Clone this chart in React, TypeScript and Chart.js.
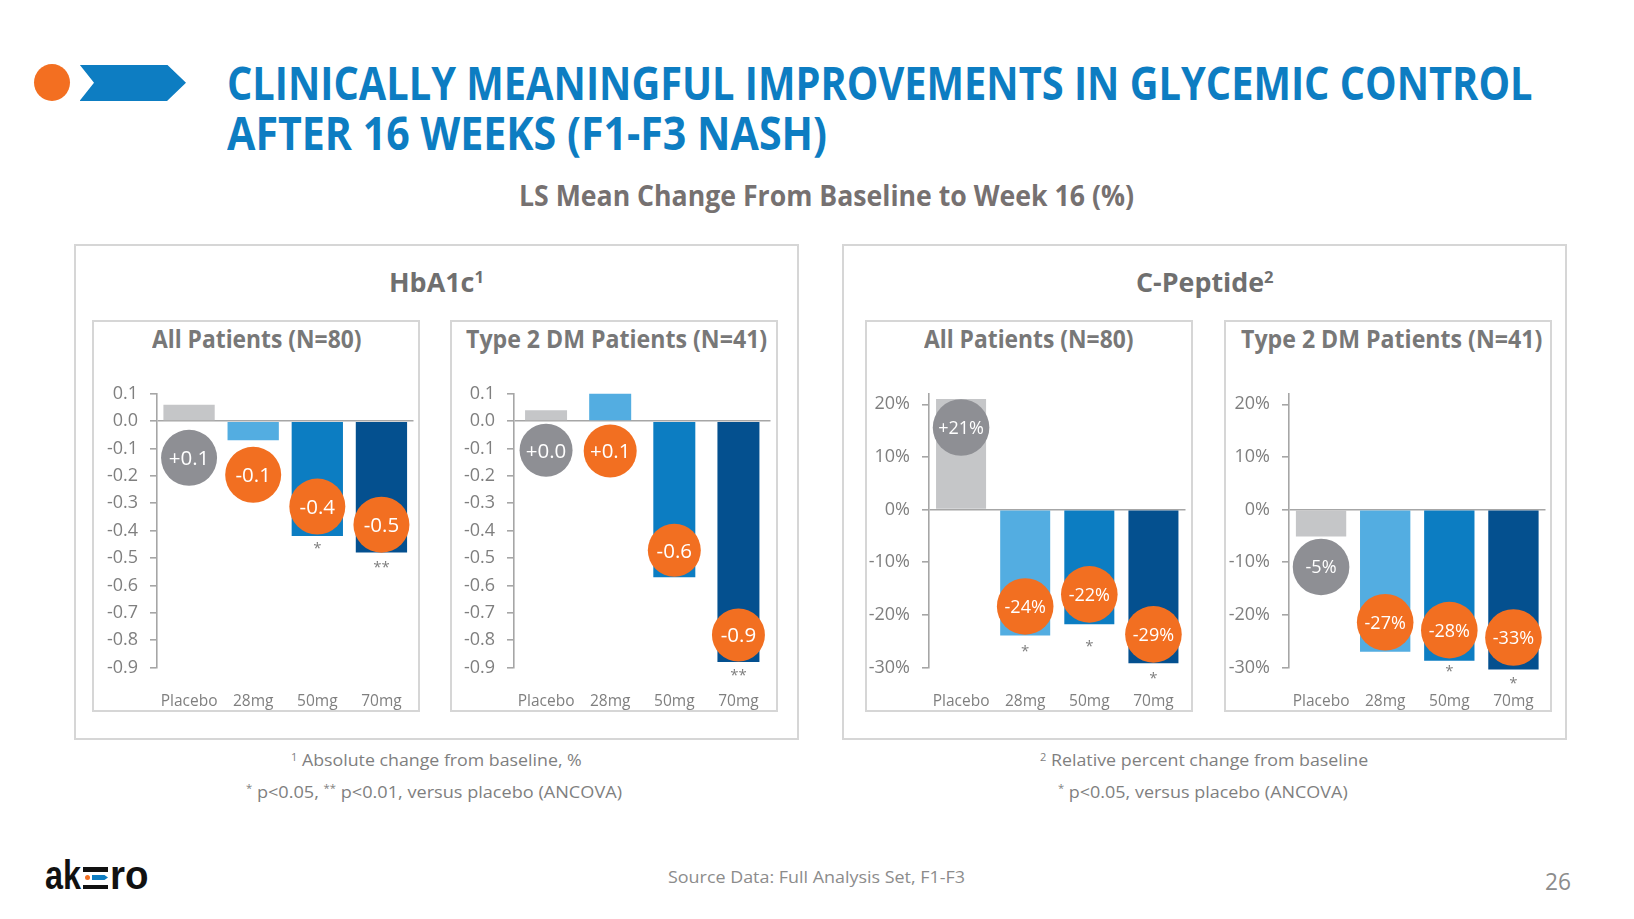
import React, { useEffect, useLayoutEffect, useRef } from "react";
import { Chart, registerables } from "chart.js";

Chart.register(...registerables);

// ---------------- DATA ----------------
const categories = ["Placebo", "28mg", "50mg", "70mg"];

const hba1cTicks = [0.1, 0, -0.1, -0.2, -0.3, -0.4, -0.5, -0.6, -0.7, -0.8, -0.9];
const cpepTicks = [0.2, 0.1, 0, -0.1, -0.2, -0.3];

const hba1cAllValues = [0.06, -0.07, -0.42, -0.48];
const hba1cAllLabels = ["+0.1", "-0.1", "-0.4", "-0.5"];
const hba1cAllSig = ["", "", "*", "**"];

const hba1cT2Values = [0.04, 0.1, -0.57, -0.88];
const hba1cT2Labels = ["+0.0", "+0.1", "-0.6", "-0.9"];
const hba1cT2Sig = ["", "", "", "**"];

const cpepAllValues = [0.21, -0.239, -0.218, -0.292];
const cpepAllLabels = ["+21%", "-24%", "-22%", "-29%"];
const cpepAllSig = ["", "*", "*", "*"];

const cpepT2Values = [-0.051, -0.27, -0.287, -0.33];
const cpepT2Labels = ["-5%", "-27%", "-28%", "-33%"];
const cpepT2Sig = ["", "", "*", "*"];

// ---------------- STYLE ----------------
const FONT = "'Open Sans', sans-serif";
const BLUE = "rgb(13,125,194)";
const ORANGE = "#f26f21";
const BUBBLE_GRAY = "#8e8f94";
const AXIS = "#a6a6a6";
const TICK_TEXT = "#7f7f7f";
const STAR = "#7f7f7f";
const BAR_COLORS = ["#c5c6c8", "#53ade1", "#0c7dc2", "#04508f"];

const Y_AXIS_W = 64;
const PLOT_W = 256.5;
const RIGHT_PAD = 24;
const CANVAS_TOP = 371;
const PAD_TOP = 20;
const PLOT_H = 276.5;
const CW = Math.ceil(Y_AXIS_W + PLOT_W + RIGHT_PAD);
const CH = 340;
const STAR_FONT = 15;

const fmtDec = (v: number) => (Math.abs(v) < 1e-9 ? 0 : v).toFixed(1);
const fmtPct = (v: number) => Math.round(v * 100) + "%";

type Panel = {
  values: number[];
  labels: string[];
  sig: string[];
  ticks: number[];
  min: number;
  max: number;
  fmt: (v: number) => string;
  axisX: number;
  catPct: number;
  radius: number;
  bubbleFont: number;
  bubbleAt: number[];
  sigAt: number[];
};

const PANELS: Panel[] = [
  {
    values: hba1cAllValues, labels: hba1cAllLabels, sig: hba1cAllSig, ticks: hba1cTicks,
    min: -0.9, max: 0.1, fmt: fmtDec, axisX: 156.7, catPct: 0.8, radius: 28, bubbleFont: 20.5,
    bubbleAt: [-0.134, -0.196, -0.312, -0.378], sigAt: [0, 0, -0.451, -0.52],
  },
  {
    values: hba1cT2Values, labels: hba1cT2Labels, sig: hba1cT2Sig, ticks: hba1cTicks,
    min: -0.9, max: 0.1, fmt: fmtDec, axisX: 514, catPct: 0.655, radius: 26.5, bubbleFont: 20.5,
    bubbleAt: [-0.106, -0.109, -0.472, -0.781], sigAt: [0, 0, 0, -0.912],
  },
  {
    values: cpepAllValues, labels: cpepAllLabels, sig: cpepAllSig, ticks: cpepTicks,
    min: -0.3, max: 0.22, fmt: fmtPct, axisX: 929.4, catPct: 0.78, radius: 28.3, bubbleFont: 18,
    bubbleAt: [0.156, -0.184, -0.161, -0.237], sigAt: [0, -0.262, -0.251, -0.312],
  },
  {
    values: cpepT2Values, labels: cpepT2Labels, sig: cpepT2Sig, ticks: cpepTicks,
    min: -0.3, max: 0.22, fmt: fmtPct, axisX: 1289.3, catPct: 0.785, radius: 28.3, bubbleFont: 18,
    bubbleAt: [-0.109, -0.214, -0.229, -0.243], sigAt: [0, 0, -0.299, -0.322],
  },
];

function annotatePlugin(p: Panel) {
  return {
    id: "annotate",
    afterDatasetsDraw(chart: any) {
      const { ctx } = chart;
      const xs = chart.scales.x;
      const ys = chart.scales.y;
      ctx.save();
      p.labels.forEach((lab, i) => {
        const cx = xs.getPixelForValue(i);
        const cy = ys.getPixelForValue(p.bubbleAt[i]);
        ctx.beginPath();
        ctx.arc(cx, cy, p.radius, 0, Math.PI * 2);
        ctx.fillStyle = i === 0 ? BUBBLE_GRAY : ORANGE;
        ctx.fill();
        ctx.fillStyle = "#ffffff";
        ctx.font = `${p.bubbleFont}px ${FONT}`;
        ctx.textAlign = "center";
        ctx.textBaseline = "alphabetic";
        ctx.fillText(lab, cx, cy + 0.357 * p.bubbleFont);
        if (p.sig[i]) {
          ctx.fillStyle = STAR;
          ctx.font = `${STAR_FONT}px ${FONT}`;
          ctx.fillText(p.sig[i], cx, ys.getPixelForValue(p.sigAt[i]) + 0.59 * STAR_FONT);
        }
      });
      ctx.restore();
    },
  };
}

function makeConfig(p: Panel): any {
  return {
    type: "bar",
    data: {
      labels: categories,
      datasets: [
        {
          data: p.values,
          backgroundColor: BAR_COLORS,
          borderWidth: 0,
          categoryPercentage: p.catPct,
          barPercentage: 1,
          clip: { top: 10, right: 10, bottom: 2, left: 10 },
        },
      ],
    },
    options: {
      animation: false,
      responsive: false,
      maintainAspectRatio: false,
      events: [],
      layout: { padding: { top: PAD_TOP, right: CW - Y_AXIS_W - PLOT_W, left: 0, bottom: 0 } },
      plugins: { legend: { display: false }, tooltip: { enabled: false } },
      scales: {
        x: {
          grid: { display: false, drawTicks: false },
          border: { display: false },
          ticks: { color: TICK_TEXT, font: { family: FONT, size: 15.5 }, padding: 25, maxRotation: 0, autoSkip: false },
          afterFit: (s: any) => {
            s.height = CH - PAD_TOP - PLOT_H;
          },
        },
        y: {
          min: p.min,
          max: p.max,
          afterBuildTicks: (s: any) => {
            s.ticks = [...p.ticks].sort((a, b) => a - b).map((value) => ({ value }));
          },
          ticks: {
            color: TICK_TEXT,
            font: { family: FONT, size: 18 },
            padding: 12,
            callback: (v: any) => p.fmt(Number(v)),
          },
          grid: {
            color: (c: any) => (c.tick && Math.abs(c.tick.value) < 1e-9 ? AXIS : "rgba(0,0,0,0)"),
            tickColor: AXIS,
            tickLength: 7,
            lineWidth: 1.6,
          },
          border: { display: true, color: AXIS, width: 1.6 },
          afterFit: (s: any) => {
            s.width = Y_AXIS_W;
          },
        },
      },
    },
    plugins: [annotatePlugin(p)],
  };
}

function BarPanel({ p }: { p: Panel }) {
  const ref = useRef<HTMLCanvasElement>(null);
  useEffect(() => {
    const chart = new Chart(ref.current as HTMLCanvasElement, makeConfig(p));
    return () => chart.destroy();
  }, []);
  return (
    <canvas
      ref={ref}
      width={CW}
      height={CH}
      style={{ position: "absolute", left: p.axisX - Y_AXIS_W, top: CANVAS_TOP, width: CW, height: CH }}
    />
  );
}

type FitProps = {
  x: number;
  baseline: number;
  width: number;
  size: number;
  weight?: number;
  color: string;
  align?: "left" | "center";
  family?: string;
  ascent?: number;
  children: React.ReactNode;
};

function FitText({ x, baseline, width, size, weight = 400, color, align = "left", family = FONT, ascent = 0.888, children }: FitProps) {
  const ref = useRef<HTMLDivElement>(null);
  useLayoutEffect(() => {
    const el = ref.current;
    if (!el) return;
    el.style.transform = "none";
    const w = el.getBoundingClientRect().width;
    if (w > 0) el.style.transform = `scaleX(${width / w})`;
  });
  const left = align === "center" ? x - width / 2 : x;
  return (
    <div
      ref={ref}
      style={{
        position: "absolute",
        left,
        top: baseline - ascent * size,
        fontSize: size,
        lineHeight: size + "px",
        fontWeight: weight,
        color,
        fontFamily: family,
        whiteSpace: "nowrap",
        transformOrigin: "0 0",
      }}
    >
      {children}
    </div>
  );
}

const Sup = ({ children }: { children: React.ReactNode }) => (
  <span style={{ fontSize: "0.62em", position: "relative", top: "-0.55em" }}>{children}</span>
);

const boxStyle = (left: number, top: number, w: number, h: number): React.CSSProperties => ({
  position: "absolute",
  left,
  top,
  width: w,
  height: h,
  border: "2px solid #d6d6d6",
  boxSizing: "border-box",
});

export default function App() {
  useEffect(() => {
    document.body.style.margin = "0";
  }, []);
  const TITLE_GRAY = "#6f6f6f";
  const SUB_GRAY = "#767171";
  const PANEL_GRAY = "#787878";
  const NOTE_GRAY = "#7f7f7f";
  const SRC_GRAY = "#8c8c8c";
  return (
    <div style={{ position: "relative", width: 1634, height: 919, background: "#ffffff", overflow: "hidden", fontFamily: FONT }}>
      {/* header marks */}
      <div style={{ position: "absolute", left: 33.5, top: 64.3, width: 36, height: 37, borderRadius: "50%", background: "#f36f21" }} />
      <div
        style={{
          position: "absolute",
          left: 79.5,
          top: 64.5,
          width: 106.5,
          height: 36.5,
          background: BLUE,
          clipPath: "polygon(0px 0px, 87.5px 0px, 106.5px 18.25px, 87.5px 36.5px, 0px 36.5px, 14.5px 18.25px)",
        }}
      />
      <FitText x={226.5} baseline={100} width={1305.5} size={46.5} weight={700} color={BLUE}>
        CLINICALLY MEANINGFUL IMPROVEMENTS IN GLYCEMIC CONTROL
      </FitText>
      <FitText x={226.5} baseline={150} width={600} size={46.5} weight={700} color={BLUE}>
        AFTER 16 WEEKS (F1-F3 NASH)
      </FitText>
      <FitText x={826.4} align="center" baseline={206} width={615} size={28} weight={700} color={SUB_GRAY}>
        LS Mean Change From Baseline to Week 16 (%)
      </FitText>

      {/* boxes */}
      <div style={boxStyle(73.5, 244, 725.5, 496)} />
      <div style={boxStyle(842, 244, 725, 496)} />
      <div style={boxStyle(92, 320, 328, 392)} />
      <div style={boxStyle(450, 320, 328, 392)} />
      <div style={boxStyle(865, 320, 328, 392)} />
      <div style={boxStyle(1224, 320, 328, 392)} />

      <FitText x={436.1} align="center" baseline={292.5} width={95} size={26.6} weight={700} color={TITLE_GRAY}>
        HbA1c<Sup>1</Sup>
      </FitText>
      <FitText x={1204.6} align="center" baseline={292.5} width={137.6} size={26.6} weight={700} color={TITLE_GRAY}>
        C-Peptide<Sup>2</Sup>
      </FitText>

      <FitText x={152.1} baseline={349} width={209.5} size={24.3} weight={700} color={PANEL_GRAY}>
        All Patients (N=80)
      </FitText>
      <FitText x={465.8} baseline={349} width={301.2} size={24.3} weight={700} color={PANEL_GRAY}>
        Type 2 DM Patients (N=41)
      </FitText>
      <FitText x={924.3} baseline={349} width={209.5} size={24.3} weight={700} color={PANEL_GRAY}>
        All Patients (N=80)
      </FitText>
      <FitText x={1241} baseline={349} width={301.3} size={24.3} weight={700} color={PANEL_GRAY}>
        Type 2 DM Patients (N=41)
      </FitText>

      {PANELS.map((p, i) => (
        <BarPanel key={i} p={p} />
      ))}

      {/* footnotes */}
      <FitText x={290.7} baseline={766.7} width={290.8} size={16.4} color={NOTE_GRAY}>
        <Sup>1</Sup> Absolute change from baseline, %
      </FitText>
      <FitText x={246} baseline={798.3} width={376} size={16.4} color={NOTE_GRAY}>
        <Sup>*</Sup> p&lt;0.05, <Sup>**</Sup> p&lt;0.01, versus placebo (ANCOVA)
      </FitText>
      <FitText x={1040} baseline={766.7} width={328.3} size={16.4} color={NOTE_GRAY}>
        <Sup>2</Sup> Relative percent change from baseline
      </FitText>
      <FitText x={1057.7} baseline={798.3} width={289.7} size={16.4} color={NOTE_GRAY}>
        <Sup>*</Sup> p&lt;0.05, versus placebo (ANCOVA)
      </FitText>
      <FitText x={668} baseline={883.3} width={297} size={16.4} color={SRC_GRAY}>
        Source Data: Full Analysis Set, F1-F3
      </FitText>
      <FitText x={1545.4} baseline={890.7} width={26} size={24} color={SRC_GRAY}>
        26
      </FitText>

      {/* logo */}
      <FitText x={45} baseline={889.3} width={36} size={40} weight={700} color="#111111" family="'Liberation Sans', Arial, sans-serif" ascent={0.8465}>
        ak
      </FitText>
      <div style={{ position: "absolute", left: 83, top: 867, width: 25, height: 4.5, background: "#111111" }} />
      <div style={{ position: "absolute", left: 84.8, top: 874.8, width: 5.4, height: 5.4, borderRadius: "50%", background: ORANGE }} />
      <div
        style={{
          position: "absolute",
          left: 91.5,
          top: 875,
          width: 16.5,
          height: 5,
          background: BLUE,
          clipPath: "polygon(0px 0px, 13px 0px, 16.5px 2.5px, 13px 5px, 0px 5px)",
        }}
      />
      <div style={{ position: "absolute", left: 83, top: 884.5, width: 25, height: 4.8, background: "#111111" }} />
      <FitText x={110} baseline={889.3} width={38.5} size={40} weight={700} color="#111111" family="'Liberation Sans', Arial, sans-serif" ascent={0.8465}>
        ro
      </FitText>
    </div>
  );
}
